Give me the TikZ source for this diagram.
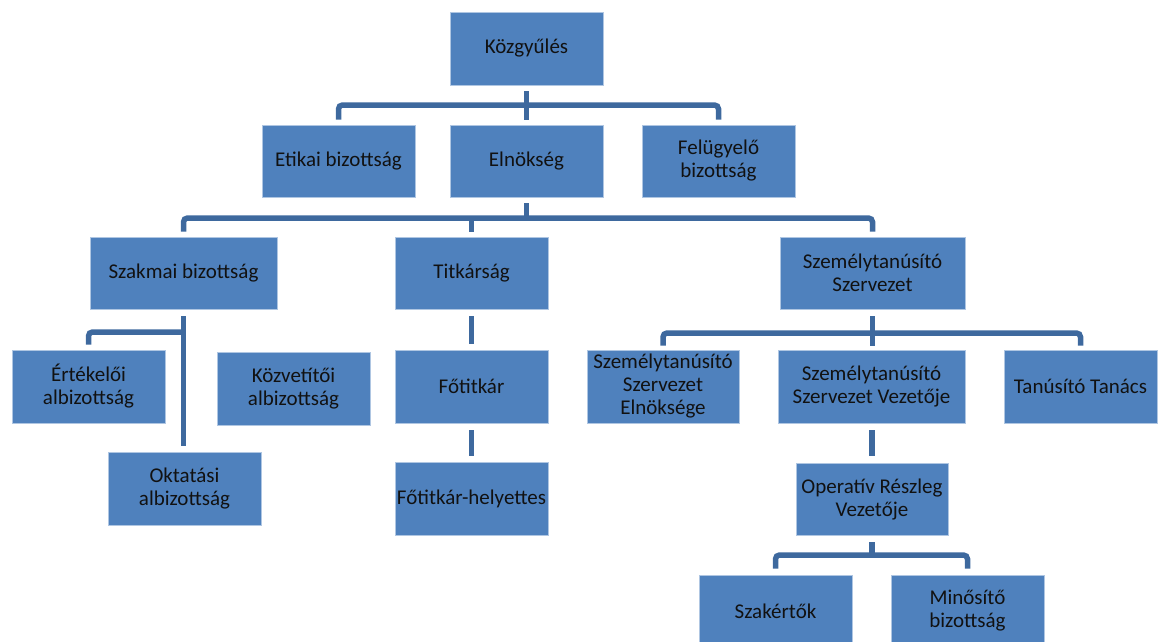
\documentclass[tikz,border=0pt]{standalone}
\usepackage{fontspec}
\setmainfont{Carlito}
\definecolor{boxfill}{RGB}{79,129,189}
\definecolor{boxedge}{RGB}{175,198,226}
\definecolor{conncol}{RGB}{62,105,158}
\definecolor{txt}{RGB}{17,17,17}
\tikzset{
  orgbox/.style={draw=boxedge, line width=0.8pt, fill=boxfill, text=txt, align=center,
    inner sep=0pt, font=\fontsize{21}{23}\selectfont},
  conn/.style={draw=conncol, line width=5.5pt, rounded corners=4pt},
}
\begin{document}
\begin{tikzpicture}[x=1pt,y=-1pt]
\useasboundingbox (0,0) rectangle (1160,641);
% level 0
\node[orgbox, minimum width=153pt, minimum height=73pt] (kozgy) at (526.5,48.5) {Közgyűlés};
% level 1
\node[orgbox, minimum width=153pt, minimum height=72pt] (etikai) at (338.5,161) {Etikai bizottság};
\node[orgbox, minimum width=153pt, minimum height=72pt] (elnok) at (526.5,161) {Elnökség};
\node[orgbox, minimum width=153pt, minimum height=72pt] (felugy) at (718.5,161) {Felügyelő\\bizottság};
% level 2
\node[orgbox, minimum width=187pt, minimum height=72pt] (szakmai) at (183.5,273) {Szakmai bizottság};
\node[orgbox, minimum width=153pt, minimum height=72pt] (titk) at (471.5,273) {Titkárság};
\node[orgbox, minimum width=185pt, minimum height=72pt] (szemsz) at (872.5,273) {Személytanúsító\\Szervezet};
% szakmai children
\node[orgbox, minimum width=153pt, minimum height=73pt] (ertek) at (88.5,386.5) {Értékelői\\albizottság};
\node[orgbox, minimum width=153pt, minimum height=73pt] (kozvet) at (293.5,388.5) {Közvetítői\\albizottság};
\node[orgbox, minimum width=153pt, minimum height=73pt] (oktat) at (184.5,488.5) {Oktatási\\albizottság};
% titkarsag chain
\node[orgbox, minimum width=153pt, minimum height=73pt] (fotitk) at (471.5,386.5) {Főtitkár};
\node[orgbox, minimum width=153pt, minimum height=73pt] (helyet) at (471.5,498.5) {Főtitkár-helyettes};
% szemelytanusito children
\node[orgbox, minimum width=152pt, minimum height=73pt] (elnoks) at (663,386.5) {Személytanúsító\\Szervezet\\Elnöksége};
\node[orgbox, minimum width=187pt, minimum height=73pt] (vezeto) at (871.5,386.5) {Személytanúsító\\Szervezet Vezetője};
\node[orgbox, minimum width=153pt, minimum height=73pt] (tanacs) at (1080.5,386.5) {Tanúsító Tanács};
\node[orgbox, minimum width=152pt, minimum height=72pt] (operativ) at (872,499) {Operatív Részleg\\Vezetője};
\node[orgbox, minimum width=153pt, minimum height=72pt] (szakert) at (775.5,611) {Szakértők};
\node[orgbox, minimum width=153pt, minimum height=72pt] (minosito) at (967.5,611) {Minősítő\\bizottság};
% connectors
\coordinate (b1) at (526.5,105);
\draw[conn] ([yshift=5pt]etikai.north) |- (b1) -| ([yshift=5pt]felugy.north);
\draw[conn] ([yshift=-6pt]kozgy.south) -- ([yshift=5pt]elnok.north);
\coordinate (b2) at (526.5,218);
\draw[conn] ([yshift=5pt]szakmai.north) |- (b2) -| ([yshift=5pt]szemsz.north);
\draw[conn] ([yshift=-6pt]elnok.south) -- (b2);
\draw[conn] (titk.north |- b2) -- ([yshift=5pt]titk.north);
\coordinate (b3) at (183.5,332);
\draw[conn] ([yshift=-7pt]szakmai.south) -- ([yshift=6pt]szakmai.south |- oktat.north);
\draw[conn] ([yshift=5pt]ertek.north) |- (b3);
\draw[conn] ([yshift=-7pt]titk.south) -- ([yshift=6pt]fotitk.north);
\draw[conn] ([yshift=-7pt]fotitk.south) -- ([yshift=6pt]helyet.north);
\coordinate (b4) at (872.5,333);
\draw[conn] ([yshift=4pt]elnoks.north) |- (b4) -| ([yshift=4pt]tanacs.north);
\draw[conn] ([yshift=-7pt]szemsz.south) -- ([yshift=4pt]szemsz.south |- vezeto.north);
\draw[conn] ([yshift=-7pt]vezeto.south -| operativ.north) -- ([yshift=7pt]operativ.north);
\coordinate (b5) at (872,555);
\draw[conn] ([yshift=6pt]szakert.north) |- (b5) -| ([yshift=6pt]minosito.north);
\draw[conn] ([yshift=-7pt]operativ.south) -- (b5);
\end{tikzpicture}
\end{document}
